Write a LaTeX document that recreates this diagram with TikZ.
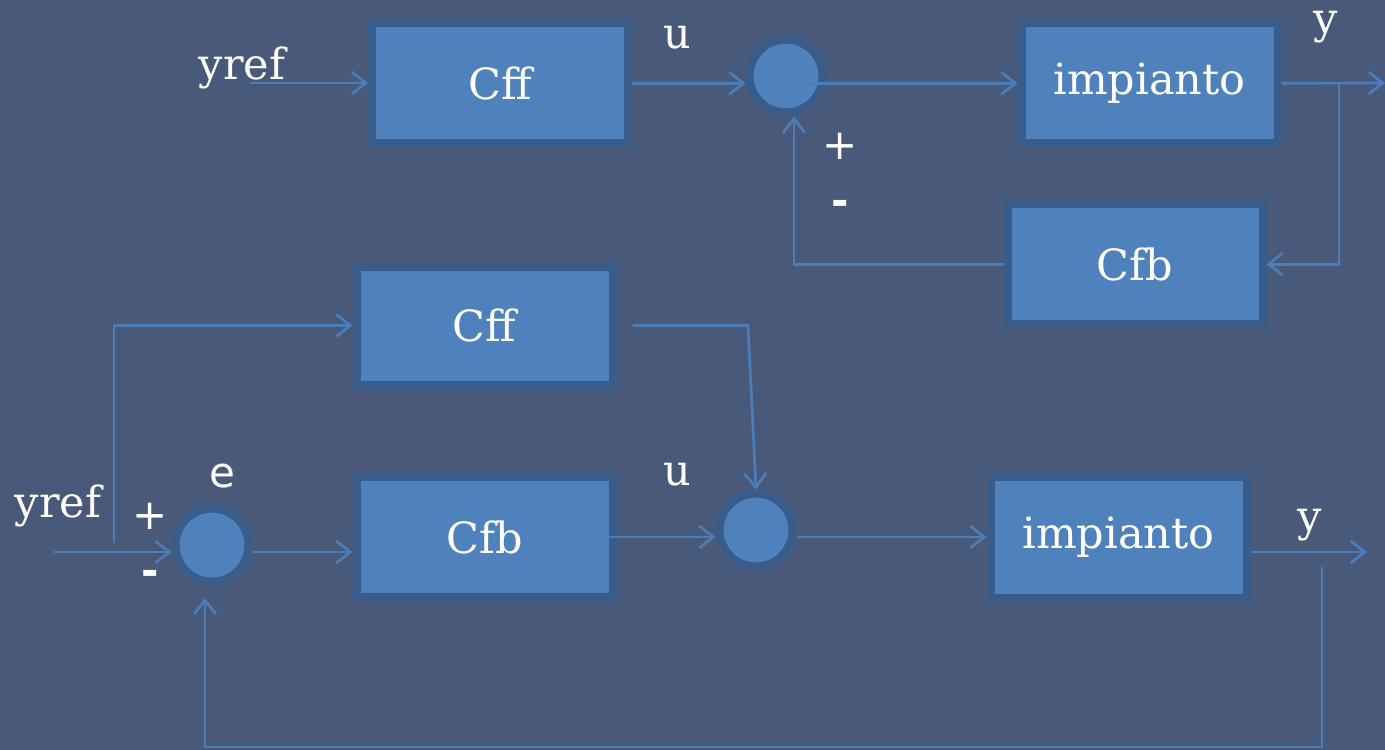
\documentclass[tikz,border=0pt]{standalone}
\usepackage{fontspec}
\setmainfont{DejaVu Serif}
\newfontfamily\signfont{DejaVu Sans}
\usetikzlibrary{arrows.meta,calc}
\definecolor{bg}{RGB}{73,89,122}
\definecolor{boxfill}{RGB}{79,129,189}
\definecolor{boxedge}{RGB}{56,93,138}
\definecolor{wirecol}{RGB}{74,126,187}

\begin{document}
\begin{tikzpicture}[x=1pt,y=-1pt,
  blk/.style={draw=boxedge,fill=boxfill,line width=8pt,minimum width=256pt,
    minimum height=120pt,inner sep=0pt,text=white,font=\fontsize{43}{50}\selectfont},
  sum/.style={circle,draw=boxedge,fill=boxfill,line width=8pt,minimum size=73pt,inner sep=0pt},
  lbl/.style={text=white,inner sep=0pt,font=\fontsize{43}{50}\selectfont},
  sgn/.style={text=white,inner sep=0pt,font=\signfont\fontsize{42}{50}\selectfont},
  ln/.style={draw=wirecol,line width=2.7pt},
  arr/.style={ln,-{Straight Barb[length=14pt,width=22pt,line width=2.7pt]}}]

% canvas
\fill[bg] (0,0) rectangle (1385,750);
\useasboundingbox (0,0) rectangle (1385,750);

% ---------- upper scheme: feedforward + feedback on the plant output ----------
\node[blk] (cff1) at (500,83.25)  {Cff};
\node[blk] (imp1) at (1149.5,83.25) {impianto};
\node[blk,minimum width=255pt] (cfb1) at (1135,264.25) {Cfb};
\node[sum] (s1) at (786,76) {};

\node[lbl] (yref1) at (242,68) {yref};
\node[lbl] (u1) at (677,38) {u};
\node[lbl] (y1) at (1326,27) {y};
\node[sgn] (p1) at (840,146) {+};
\node[sgn,font=\signfont\bfseries\fontsize{42}{50}\selectfont] (m1) at (840,208) {-};

\coordinate (in1) at (250,83);
\coordinate (out1) at (1385,83);
\coordinate (br1) at (1339,83);

\draw[arr] (in1) -- (cff1.west |- in1);
\draw[arr] (cff1.east) -- (cff1.east -| s1.west);
\draw[arr] ($(s1.center |- imp1.west)+(23,0)$) -- (imp1.west);
\draw[arr] (imp1.east) -- (out1);
\draw[arr] (br1) |- (cfb1.east);
\draw[arr] (cfb1.west) -| ($(s1.south)+(8,0)$);

% ---------- lower scheme: two-degree-of-freedom loop ----------
\node[blk,minimum height=118pt] (cff2) at (484.5,325.5) {Cff};
\node[blk] (cfb2) at (484.5,537) {Cfb};
\node[blk,minimum height=121pt] (imp2) at (1118.5,537) {impianto};
\node[sum] (s2) at (212,545) {};
\node[sum] (s3) at (756,530) {};

\node[lbl] (yref2) at (58,506) {yref};
\node[sgn] (p2) at (150,516) {+};
\node[sgn,font=\signfont\bfseries\fontsize{42}{50}\selectfont] (m2) at (150,578) {-};
\node[sgn] (e2) at (222,476) {e};
\node[lbl] (u2) at (677,475) {u};
\node[lbl] (y2) at (1310,525) {y};

\coordinate (in2) at (54,552);
\coordinate (br2) at (114,543);
\coordinate (knee) at (748,325.5);
\coordinate (out2) at (1367,552);
\coordinate (fb) at (1322,567);
\coordinate (fbc) at (1322,747);
\coordinate (s2tip) at (205,598);

\draw[arr] (in2) -- (in2 -| s2.west);
\draw[arr] (br2) |- (cff2.west);
\draw[arr] (s2.east |- in2) -- (cfb2.west |- in2);
\draw[arr] ($(cff2.east)+(16,0)$) -- (knee) -- (s3.north);
\draw[arr] ($(cfb2.east)+(-14,0)$) -- (s3.west |- cfb2.east);
\draw[arr] (s3.east |- imp2.west) -- (imp2.west);
\draw[arr] (imp2.east |- out2) -- (out2);
\draw[arr] (fb) -- (fbc) -| (s2tip);
\end{tikzpicture}
\end{document}
